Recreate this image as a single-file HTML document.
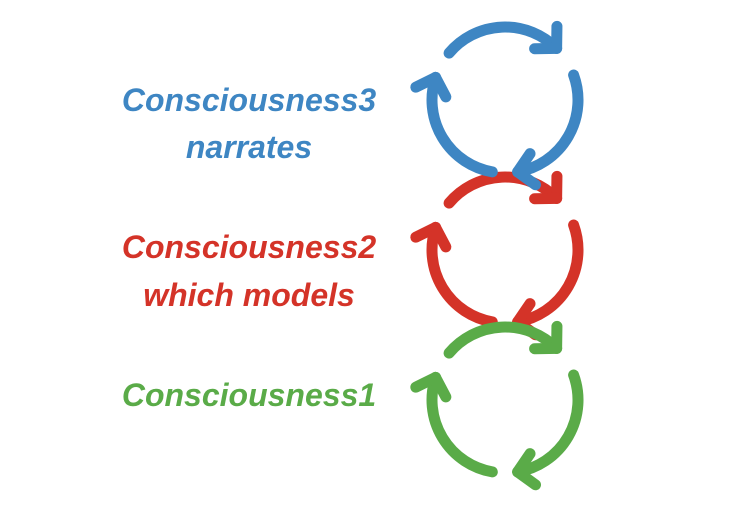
<!DOCTYPE html>
<html><head><meta charset="utf-8"><style>
html,body{margin:0;padding:0;background:#fff;}
body{width:733px;height:524px;position:relative;overflow:hidden;}
.t{position:absolute;left:99px;width:300px;text-align:center;font-family:"Liberation Sans",sans-serif;font-weight:bold;font-style:italic;font-size:32px;line-height:36px;white-space:nowrap;}
svg{position:absolute;left:0;top:0;}
</style></head><body>
<div class="t" style="top:82px;color:#3e86c3">Consciousness3</div>
<div class="t" style="top:129px;color:#3e86c3">narrates</div>
<div class="t" style="top:229px;color:#d43328">Consciousness2</div>
<div class="t" style="top:277px;color:#d43328">which models</div>
<div class="t" style="top:377px;color:#5aab48">Consciousness1</div>
<svg id="s" width="733" height="524" viewBox="0 0 733 524"></svg>
<script>
var s=document.getElementById('s'),h='';
function circ(cx,cy,r,col){
 var arcs=[[220,315],[340,80],[100,198]];
 arcs.forEach(function(a){
  var a0=a[0]*Math.PI/180,a1=a[1]*Math.PI/180;
  var sweep=(a[1]-a[0]+360)%360;
  var x0=cx+r*Math.cos(a0),y0=cy+r*Math.sin(a0),x1=cx+r*Math.cos(a1),y1=cy+r*Math.sin(a1);
  h+='<path d="M'+x0+' '+y0+' A'+r+' '+r+' 0 '+(sweep>180?1:0)+' 1 '+x1+' '+y1+'" fill="none" stroke="'+col+'" stroke-width="11" stroke-linecap="round"/>';
  var tx=-Math.sin(a1),ty=Math.cos(a1);
  var back=Math.atan2(-ty,-tx),L=22;
  [0.8,-0.8].forEach(function(d){
   var ang=back+d;
   h+='<line x1="'+x1+'" y1="'+y1+'" x2="'+(x1+L*Math.cos(ang))+'" y2="'+(y1+L*Math.sin(ang))+'" stroke="'+col+'" stroke-width="11" stroke-linecap="round"/>';
  });
 });
}
circ(505,250,73,'#d43328');
circ(505,100,73,'#3e86c3');
circ(505,400,73,'#5aab48');
s.innerHTML=h;
</script>
</body></html>
